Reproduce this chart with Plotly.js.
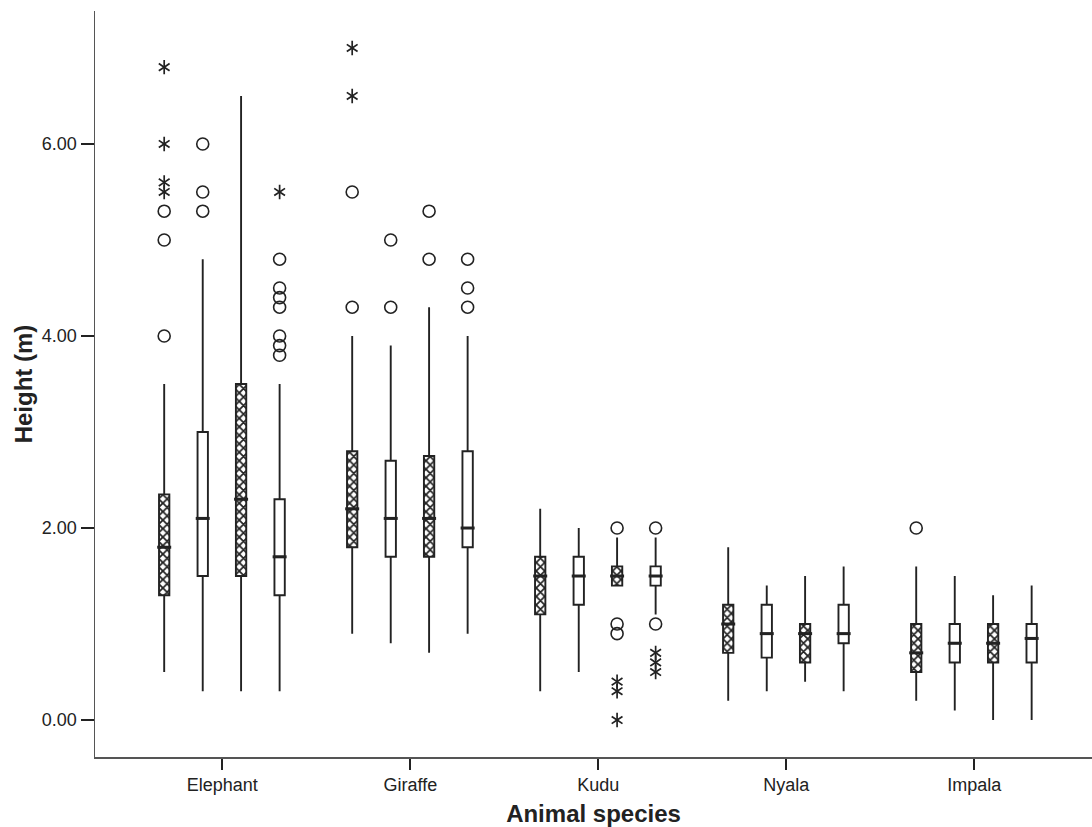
<!DOCTYPE html>
<html>
<head>
<meta charset="utf-8">
<script src="https://cdn.plot.ly/plotly-3.0.1.min.js"></script>
<style>html,body{margin:0;padding:0;background:#fff;}#chart{width:1092px;height:827px;}</style>
</head>
<body>
<div id="chart"></div>
<script>
// ---- Data ----
const species = ['Elephant', 'Giraffe', 'Kudu', 'Nyala', 'Impala'];
const yTickVals = [0, 2, 4, 6];
const yTickText = ['0.00', '2.00', '4.00', '6.00'];

// Series 1 (cross-hatched)
const s1Upper = [3.5, 4.0, 2.2, 1.8, 1.6];
const s1Q3    = [2.35, 2.8, 1.7, 1.2, 1.0];
const s1Med   = [1.8, 2.2, 1.5, 1.0, 0.7];
const s1Q1    = [1.3, 1.8, 1.1, 0.7, 0.5];
const s1Lower = [0.5, 0.9, 0.3, 0.2, 0.2];
const s1CircleCat = ['Elephant', 'Elephant', 'Elephant', 'Giraffe', 'Giraffe', 'Impala'];
const s1CircleVal = [4.0, 5.0, 5.3, 4.3, 5.5, 2.0];
const s1StarCat = ['Elephant', 'Elephant', 'Elephant', 'Elephant', 'Giraffe', 'Giraffe'];
const s1StarVal = [5.5, 5.6, 6.0, 6.8, 6.5, 7.0];

// Series 2 (plain)
const s2Upper = [4.8, 3.9, 2.0, 1.4, 1.5];
const s2Q3    = [3.0, 2.7, 1.7, 1.2, 1.0];
const s2Med   = [2.1, 2.1, 1.5, 0.9, 0.8];
const s2Q1    = [1.5, 1.7, 1.2, 0.65, 0.6];
const s2Lower = [0.3, 0.8, 0.5, 0.3, 0.1];
const s2CircleCat = ['Elephant', 'Elephant', 'Elephant', 'Giraffe', 'Giraffe'];
const s2CircleVal = [5.3, 5.5, 6.0, 4.3, 5.0];
const s2StarCat = [];
const s2StarVal = [];

// Series 3 (cross-hatched)
const s3Upper = [6.5, 4.3, 1.9, 1.5, 1.3];
const s3Q3    = [3.5, 2.75, 1.6, 1.0, 1.0];
const s3Med   = [2.3, 2.1, 1.5, 0.9, 0.8];
const s3Q1    = [1.5, 1.7, 1.4, 0.6, 0.6];
const s3Lower = [0.3, 0.7, 1.4, 0.4, 0.0];
const s3CircleCat = ['Giraffe', 'Giraffe', 'Kudu', 'Kudu', 'Kudu'];
const s3CircleVal = [4.8, 5.3, 0.9, 1.0, 2.0];
const s3StarCat = ['Kudu', 'Kudu', 'Kudu'];
const s3StarVal = [0.0, 0.3, 0.4];

// Series 4 (plain)
const s4Upper = [3.5, 4.0, 1.9, 1.6, 1.4];
const s4Q3    = [2.3, 2.8, 1.6, 1.2, 1.0];
const s4Med   = [1.7, 2.0, 1.5, 0.9, 0.85];
const s4Q1    = [1.3, 1.8, 1.4, 0.8, 0.6];
const s4Lower = [0.3, 0.9, 1.1, 0.3, 0.0];
const s4CircleCat = ['Elephant', 'Elephant', 'Elephant', 'Elephant', 'Elephant', 'Elephant', 'Elephant',
                     'Giraffe', 'Giraffe', 'Giraffe', 'Kudu', 'Kudu'];
const s4CircleVal = [3.8, 3.9, 4.0, 4.3, 4.4, 4.5, 4.8, 4.3, 4.5, 4.8, 1.0, 2.0];
const s4StarCat = ['Elephant', 'Kudu', 'Kudu', 'Kudu'];
const s4StarVal = [5.5, 0.5, 0.6, 0.7];

// ---- Styling / layout (not data) ----
const series = [
  {upper: s1Upper, q3: s1Q3, med: s1Med, q1: s1Q1, lower: s1Lower, cc: s1CircleCat, cv: s1CircleVal, sc: s1StarCat, sv: s1StarVal, hatched: true},
  {upper: s2Upper, q3: s2Q3, med: s2Med, q1: s2Q1, lower: s2Lower, cc: s2CircleCat, cv: s2CircleVal, sc: s2StarCat, sv: s2StarVal, hatched: false},
  {upper: s3Upper, q3: s3Q3, med: s3Med, q1: s3Q1, lower: s3Lower, cc: s3CircleCat, cv: s3CircleVal, sc: s3StarCat, sv: s3StarVal, hatched: true},
  {upper: s4Upper, q3: s4Q3, med: s4Med, q1: s4Q1, lower: s4Lower, cc: s4CircleCat, cv: s4CircleVal, sc: s4StarCat, sv: s4StarVal, hatched: false}
];
const offsets = [-0.309, -0.104, 0.1, 0.305];
const boxW = 0.055;
const ink = '#222222';
const FONT = 'Liberation Sans, Arial, Helvetica, sans-serif';

const bars = [], boxes = [], marks = [];
series.forEach((s, i) => {
  const xs = species.map((_, k) => k + offsets[i]);
  if (s.hatched) {
    bars.push({
      type: 'bar', x: xs, base: s.q1, y: s.q3.map((v, k) => v - s.q1[k]),
      width: boxW, showlegend: false, hoverinfo: 'skip',
      marker: {color: 'white', line: {width: 0},
               pattern: {shape: 'x', fgcolor: ink, bgcolor: 'white', size: 6, solidity: 0.5}}
    });
  }
  boxes.push({
    type: 'box', x: xs, q1: s.q1, median: s.med, q3: s.q3,
    lowerfence: s.lower, upperfence: s.upper,
    width: boxW, whiskerwidth: 0, showlegend: false, boxpoints: false,
    fillcolor: 'rgba(0,0,0,0)', line: {color: ink, width: 1.9}
  });
  // thicker median bar, as in the reference
  marks.push({
    type: 'scatter', mode: 'markers', x: xs, y: s.med, showlegend: false,
    marker: {symbol: 'line-ew-open', size: 10, color: ink, line: {width: 3, color: ink}}
  });
  const cx = s.cc.map(c => species.indexOf(c) + offsets[i]);
  marks.push({
    type: 'scatter', mode: 'markers', x: cx, y: s.cv, showlegend: false,
    marker: {symbol: 'circle-open', size: 12, color: ink, line: {width: 1.6, color: ink}}
  });
  const sx = s.sc.map(c => species.indexOf(c) + offsets[i]);
  ['y-up-open', 'y-down-open'].forEach(sym => {
    marks.push({
      type: 'scatter', mode: 'markers', x: sx, y: s.sv, showlegend: false,
      marker: {symbol: sym, size: 9, color: ink, line: {width: 1.7, color: ink}}
    });
  });
});

const layout = {
  width: 1092, height: 827,
  margin: {l: 95, r: 0, t: 11, b: 70},
  paper_bgcolor: 'white', plot_bgcolor: 'white',
  font: {family: FONT, color: ink, size: 18},
  barmode: 'overlay', boxmode: 'overlay',
  showlegend: false,
  xaxis: {
    range: [-0.677, 4.626], tickvals: species.map((_, k) => k), ticktext: species,
    showgrid: false, zeroline: false, showline: true, linecolor: '#555', linewidth: 1.5,
    ticks: 'outside', ticklen: 11, tickwidth: 1.8, tickcolor: ink,
    tickfont: {family: FONT, size: 18, color: ink},
    title: {text: 'Animal species', font: {family: FONT, size: 24, color: ink, weight: 'bold'}, standoff: 13}
  },
  yaxis: {
    range: [-0.385, 7.385], tickvals: yTickVals, ticktext: yTickText,
    showgrid: false, zeroline: false, showline: true, linecolor: '#555', linewidth: 1.5,
    ticks: 'outside', ticklen: 13, tickwidth: 1.8, tickcolor: ink,
    tickfont: {family: FONT, size: 18, color: ink},
    title: {text: 'Height (m)', font: {family: FONT, size: 24, color: ink, weight: 'bold'}, standoff: 2}
  }
};

Plotly.newPlot('chart', bars.concat(boxes, marks), layout, {staticPlot: true, displayModeBar: false});
</script>
</body>
</html>
